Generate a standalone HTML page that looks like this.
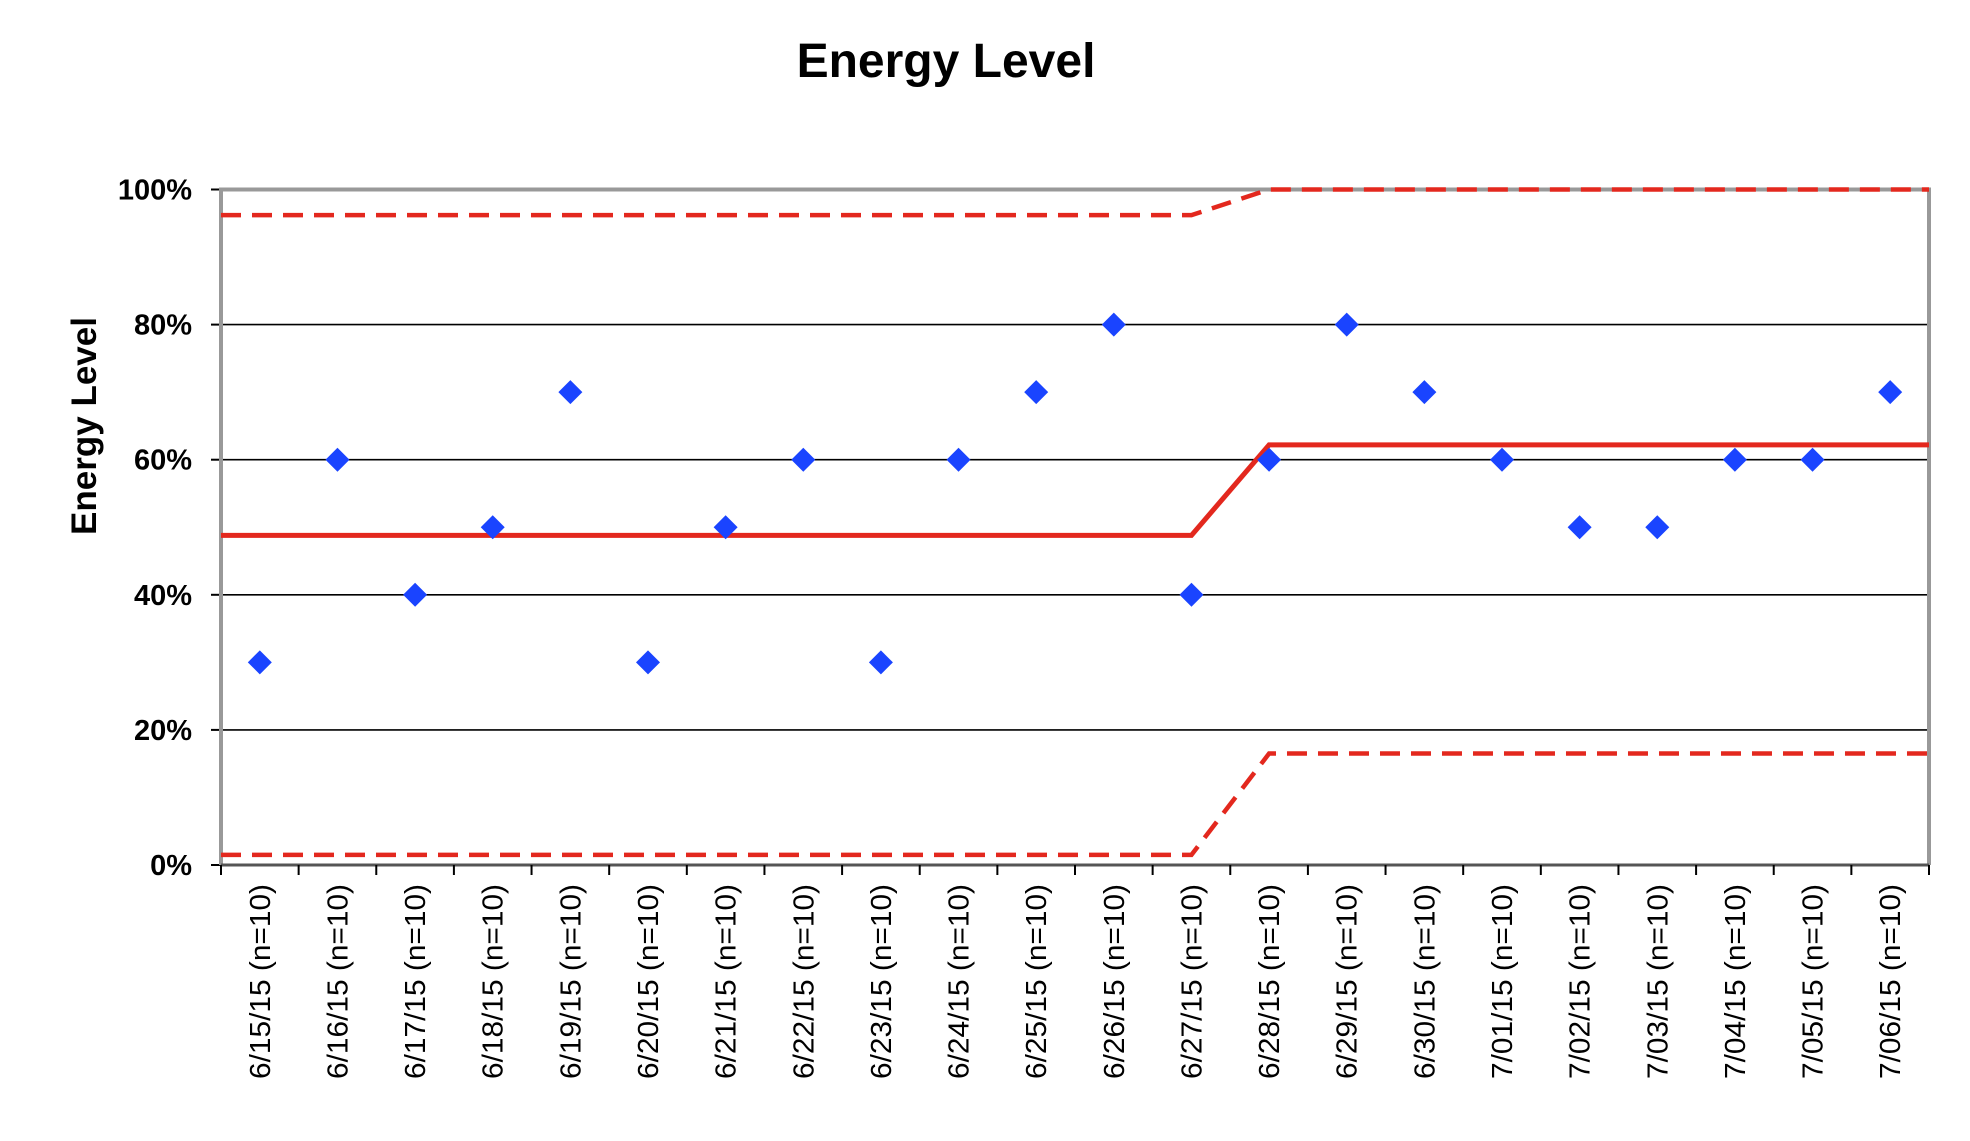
<!DOCTYPE html>
<html><head><meta charset="utf-8"><style>
body{margin:0;background:#fff;}
svg text{font-family:"Liberation Sans",Arial,sans-serif;}
</style></head><body>
<svg id="c" width="1970" height="1136" viewBox="0 0 1970 1136" xmlns="http://www.w3.org/2000/svg">
<text x="946" y="77" text-anchor="middle" font-size="48" font-weight="bold">Energy Level</text>
<text transform="translate(96,426) rotate(-90)" text-anchor="middle" font-size="35" font-weight="bold">Energy Level</text>
<g id="grid"></g>
<g id="axes"></g>
<g id="limits"></g>
<g id="pts"></g>
<g id="xl"></g>
<g id="yl"></g>
</svg>
<script>
const categories=["6/15/15","6/16/15","6/17/15","6/18/15","6/19/15","6/20/15","6/21/15","6/22/15","6/23/15","6/24/15","6/25/15","6/26/15","6/27/15","6/28/15","6/29/15","6/30/15","7/01/15","7/02/15","7/03/15","7/04/15","7/05/15","7/06/15"];
const nLabels=[10,10,10,10,10,10,10,10,10,10,10,10,10,10,10,10,10,10,10,10,10,10];
const values=[30,60,40,50,70,30,50,60,30,60,70,80,40,60,80,70,60,50,50,60,60,70];
const meanLine=[48.8,48.8,48.8,48.8,48.8,48.8,48.8,48.8,48.8,48.8,48.8,48.8,48.8,62.2,62.2,62.2,62.2,62.2,62.2,62.2,62.2,62.2];
const uclLine=[96.2,96.2,96.2,96.2,96.2,96.2,96.2,96.2,96.2,96.2,96.2,96.2,96.2,100,100,100,100,100,100,100,100,100];
const lclLine=[1.5,1.5,1.5,1.5,1.5,1.5,1.5,1.5,1.5,1.5,1.5,1.5,1.5,16.5,16.5,16.5,16.5,16.5,16.5,16.5,16.5,16.5];
const yTicks=[0,20,40,60,80,100];
const L=221,R=1929,T=189.5,B=865;
const bw=(R-L)/categories.length;
const xc=i=>L+bw*(i+0.5);
const y=v=>B-(B-T)*v/100;
const NS="http://www.w3.org/2000/svg";
function mk(t,a,p){const e=document.createElementNS(NS,t);for(const k in a)e.setAttribute(k,a[k]);p.appendChild(e);return e;}
const grid=document.getElementById('grid'),axes=document.getElementById('axes'),lim=document.getElementById('limits'),pts=document.getElementById('pts'),xl=document.getElementById('xl'),yl=document.getElementById('yl');
yTicks.forEach(v=>{
 if(v>0&&v<100){const g=mk('line',{x1:L,x2:R,y1:y(v),y2:y(v),stroke:'#000','stroke-width':1.6},grid);
 
 }
 const tk=mk('line',{x1:L-10,x2:L,y1:y(v),y2:y(v),stroke:'#000','stroke-width':2},axes);
 
 
 const t=mk('text',{x:192,y:y(v)+10,'text-anchor':'end','font-size':29,'font-weight':'bold'},yl);
 t.textContent=v+'%';
 
 
});
const frame=mk('path',{d:`M${L},${B} L${L},${T} L${R},${T} L${R},${B}`,fill:'none',stroke:'#999','stroke-width':4},axes);


const xa=mk('line',{x1:L,x2:R,y1:B,y2:B,stroke:'#555','stroke-width':3},axes);


for(let i=0;i<=categories.length;i++){
 const tk=mk('line',{x1:L+bw*i,x2:L+bw*i,y1:B,y2:B+10,stroke:'#000','stroke-width':2},axes);
 
 
}
function poly(arr,dash,name){
 const d=arr.map((v,i)=>(i?'L':'M')+xc(i)+','+y(v)).join(' ');
 const first='M'+L+','+y(arr[0])+' L'+d.slice(1)+' L'+R+','+y(arr[arr.length-1]);
 const p=mk('path',{d:first,fill:'none',stroke:'#e3281e','stroke-width':dash?4.5:5},lim);
 if(dash)p.setAttribute('stroke-dasharray','20,11');
 
 
}
poly(uclLine,true,'upper-control-limit');
poly(lclLine,true,'lower-control-limit');
poly(meanLine,false,'mean-line');
values.forEach((v,i)=>{
 const cx=xc(i),cy=y(v),s=12;
 const p=mk('path',{d:`M${cx-s},${cy} L${cx},${cy-s} L${cx+s},${cy} L${cx},${cy+s} Z`,fill:'#1a44ff'},pts);
 
 
});
categories.forEach((c,i)=>{
 const t=mk('text',{transform:`translate(${xc(i)+10},884) rotate(-90)`,'text-anchor':'end','font-size':29,textLength:195,lengthAdjust:'spacingAndGlyphs'},xl);
 t.textContent=c+' (n='+nLabels[i]+')';
 
 
});
</script>
</body></html>
